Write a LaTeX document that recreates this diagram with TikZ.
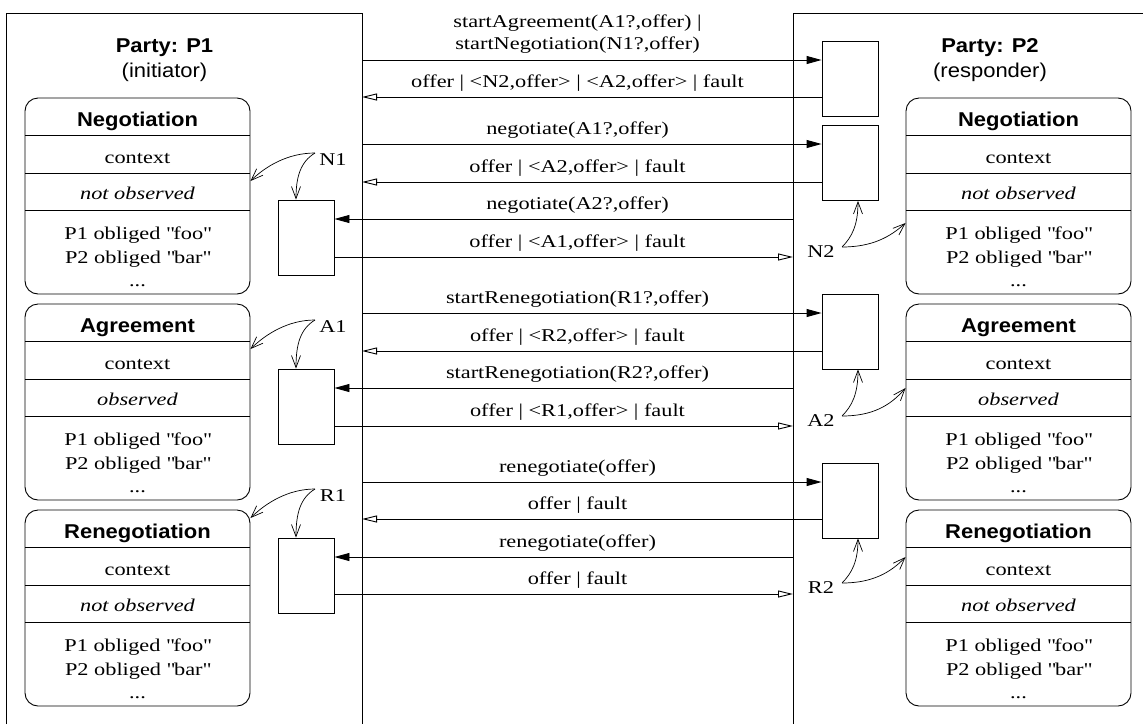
\documentclass[tikz,border=0pt]{standalone}
\usepackage{fontspec}
\setmainfont{Liberation Serif}[FakeStretch=1.24]
\newfontfamily\headsans{Liberation Sans}[FakeStretch=1.1]
\usetikzlibrary{arrows.meta,calc}

% One contract-state box: name, left x, top y, phase title, observation mode
\newcommand\contractbox[5]{%
  \node[cbox] (#1) at (#2+112.5,#3+98) {};
  \foreach \d in {37,75,112} \draw (#2,#3+\d) -- (#2+225,#3+\d);
  \node[hdr] (#1-title) at (#2+112.5,#3+28) {#4};
  \node[txt] (#1-ctx)   at (#2+112.5,#3+65) {context};
  \node[txt] (#1-obs)   at (#2+112.5,#3+101) {\itshape #5};
  \node[txt] (#1-p1)    at (#2+112.5,#3+141) {P1 obliged \textquotedbl foo\textquotedbl};
  \node[txt] (#1-p2)    at (#2+112.5,#3+165) {P2 obliged \textquotedbl bar\textquotedbl};
  \node[txt] (#1-more)  at (#2+112.5,#3+188) {...};
}
% Reference name on the initiator side: label, baseline y, state box, hit y, activity box
\newcommand\leftref[5]{%
  \node[txt] (#1) at (333,#2) {#1};
  \coordinate (#1-from) at (315,#2-12);
  \draw[refarrow] (#1-from) .. controls (288,#2-12) and (266,#4-15) .. (#3.east |- 0,#4);
  \draw[refarrow] (#1-from) .. controls (300,#2-3) and (296,#2+13) .. (#5.north -| 296,0);
}
% Reference name on the responder side
\newcommand\rightref[5]{%
  \node[txt] (#1) at (821,#2) {#1};
  \coordinate (#1-from) at (842,#2-10);
  \draw[refarrow] (#1-from) .. controls (852,#2-20) and (858,#2-32) .. (#5.south -| 858,0);
  \draw[refarrow] (#1-from) .. controls (872,#2-10) and (890,#2-20) .. (#3.west |- 0,#4);
}

\begin{document}
\begin{tikzpicture}[x=1pt,y=-1pt,line width=0.9pt,
  txt/.style={font=\fontsize{18}{22}\selectfont,inner sep=0pt,anchor=base},
  hdr/.style={font=\headsans\bfseries\fontsize{20}{24}\selectfont,inner sep=0pt,anchor=base},
  role/.style={font=\headsans\fontsize{20}{24}\selectfont,inner sep=0pt,anchor=base},
  cbox/.style={draw,rounded corners=13pt,minimum width=225pt,minimum height=196pt,inner sep=0pt},
  actbox/.style={draw,minimum width=56pt,minimum height=75pt,inner sep=0pt},
  call/.style={-{Triangle[length=15pt,width=8pt]}},
  reply/.style={-{Triangle[open,length=15pt,width=7pt]}},
  refarrow/.style={-{Straight Barb[length=12pt,width=9pt]},line width=0.7pt},
  msg/.style={txt},
]
\useasboundingbox (0,0) rectangle (1143,724);

% party frames (open at the bottom / right)
\draw (6,724) -- (6,13) -- (362,13) -- (362,724);
\draw (1143,13) -- (793,13) -- (793,724);
\coordinate (p1) at (362,13);
\coordinate (p2) at (793,13);

\node[hdr]  (p1name) at (164.5,52) {Party: P1};
\node[role] (p1role) at (164.5,77) {(initiator)};
\node[hdr]  (p2name) at (990,52) {Party: P2};
\node[role] (p2role) at (990,77) {(responder)};

% contract states
\contractbox{negL}{25}{98}{Negotiation}{not observed}
\contractbox{agrL}{25}{304}{Agreement}{observed}
\contractbox{renL}{25}{510}{Renegotiation}{not observed}
\contractbox{negR}{906}{98}{Negotiation}{not observed}
\contractbox{agrR}{906}{304}{Agreement}{observed}
\contractbox{renR}{906}{510}{Renegotiation}{not observed}

% activity boxes
\node[actbox] (s0)  at (850,78.5)  {};
\node[actbox] (sN2) at (850,163)   {};
\node[actbox] (sA2) at (850,331.5) {};
\node[actbox] (sR2) at (850,500.5) {};
\node[actbox] (sN1) at (306,237.5) {};
\node[actbox] (sA1) at (306,406.5) {};
\node[actbox] (sR1) at (306,575.5) {};

% start
\draw[call]  (p1 |- 0,60) -- (s0.west |- 0,60);
\node[msg] (m0a) at (577.5,27) {startAgreement(A1?,offer) |};
\node[msg] (m0b) at (577.5,49) {startNegotiation(N1?,offer)};
\draw[reply] (s0.west |- 0,97) -- (p1 |- 0,97);
\node[msg] (m0c) at (577.5,87) {offer | <N2,offer> | <A2,offer> | fault};

% negotiation
\draw[call]  (p1 |- 0,144) -- (sN2.west |- 0,144);
\node[msg] (m1) at (577.5,134) {negotiate(A1?,offer)};
\draw[reply] (sN2.west |- 0,182) -- (p1 |- 0,182);
\node[msg] (m2) at (577.5,172) {offer | <A2,offer> | fault};
\draw[call]  (p2 |- 0,219) -- (sN1.east |- 0,219);
\node[msg] (m3) at (577.5,209) {negotiate(A2?,offer)};
\draw[reply] (sN1.east |- 0,257) -- (p2 |- 0,257);
\node[msg] (m4) at (577.5,247) {offer | <A1,offer> | fault};

% agreement
\draw[call]  (p1 |- 0,313) -- (sA2.west |- 0,313);
\node[msg] (m5) at (577.5,303) {startRenegotiation(R1?,offer)};
\draw[reply] (sA2.west |- 0,351) -- (p1 |- 0,351);
\node[msg] (m6) at (577.5,341) {offer | <R2,offer> | fault};
\draw[call]  (p2 |- 0,388) -- (sA1.east |- 0,388);
\node[msg] (m7) at (577.5,378) {startRenegotiation(R2?,offer)};
\draw[reply] (sA1.east |- 0,426) -- (p2 |- 0,426);
\node[msg] (m8) at (577.5,416) {offer | <R1,offer> | fault};

% renegotiation
\draw[call]  (p1 |- 0,482) -- (sR2.west |- 0,482);
\node[msg] (m9) at (577.5,472) {renegotiate(offer)};
\draw[reply] (sR2.west |- 0,519) -- (p1 |- 0,519);
\node[msg] (m10) at (577.5,509) {offer | fault};
\draw[call]  (p2 |- 0,557) -- (sR1.east |- 0,557);
\node[msg] (m11) at (577.5,547) {renegotiate(offer)};
\draw[reply] (sR1.east |- 0,594) -- (p2 |- 0,594);
\node[msg] (m12) at (577.5,584) {offer | fault};

% reference names
\leftref{N1}{165}{negL}{181}{sN1}
\leftref{A1}{332}{agrL}{349}{sA1}
\leftref{R1}{501}{renL}{518}{sR1}
\rightref{N2}{257}{negR}{223}{sN2}
\rightref{A2}{426}{agrR}{388}{sA2}
\rightref{R2}{593}{renR}{557}{sR2}
\end{tikzpicture}
\end{document}
